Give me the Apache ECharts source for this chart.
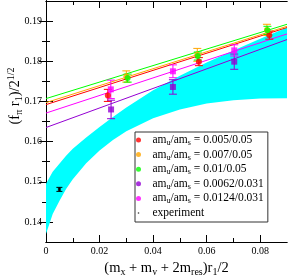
<!DOCTYPE html>
<html><head><meta charset="utf-8">
<script src="https://cdn.jsdelivr.net/npm/echarts@6/dist/echarts.min.js"></script>
<style>html,body{margin:0;padding:0;background:#fff}#c{width:289px;height:275px}</style>
</head><body><div id="c"></div>
<script>
// ---- tick values ----
const xMajorTicks = [0, 0.02, 0.04, 0.06, 0.08];
const xMinorTicks = [0.01, 0.03, 0.05, 0.07];
const yMajorTicks = [0.14, 0.15, 0.16, 0.17, 0.18, 0.19];
const yMinorTicks = [0.145, 0.155, 0.165, 0.175, 0.185];

// ---- legend labels (am_u/am_s ratios) ----
const ratioLabels = ['0.005/0.05', '0.007/0.05', '0.01/0.05', '0.0062/0.031', '0.0124/0.031'];
const seriesColors = ['#ff0000', '#ffa500', '#00ff00', '#9400d3', '#ff00ff'];

// ---- lattice data points ----
const redX = [0.0231, 0.0571, 0.0834];
const redY = [0.1715, 0.1799, 0.1865];
const redErr = [0.0015, 0.0010, 0.0010];
const orangeX = [0.0300, 0.0565, 0.0825];
const orangeY = [0.1762, 0.1816, 0.1878];
const orangeErr = [0.0014, 0.0016, 0.0014];
const greenX = [0.0305, 0.0567, 0.0827];
const greenY = [0.1758, 0.1813, 0.1877];
const greenErr = [0.0010, 0.0010, 0.0010];
const purpleX = [0.0243, 0.0474, 0.0703];
const purpleY = [0.1680, 0.1736, 0.1799];
const purpleErr = [0.0023, 0.0018, 0.0019];
const magentaX = [0.0242, 0.0474, 0.0703];
const magentaY = [0.1730, 0.1775, 0.1827];
const magentaErr = [0.0023, 0.0016, 0.0014];

// ---- experiment ----
const expX = [0.005];
const expY = [0.1481];
const expErr = [0.0005];

// ---- fit lines (values at lineX) ----
const lineX = [0, 0.09];
const redFit = [0.1692, 0.1884];
const orangeFit = [0.1697, 0.1887];
const greenFit = [0.1707, 0.1892];
const purpleFit = [0.1635, 0.1854];
const magentaFit = [0.1671, 0.1868];

// ---- cyan band ----
const bandX     = [0, 0.0025, 0.005, 0.0075, 0.01, 0.015, 0.02, 0.025, 0.03, 0.04, 0.05, 0.06, 0.07, 0.08, 0.09];
const bandUpper = [0.1495, 0.1525, 0.1545, 0.1565, 0.1582, 0.1610, 0.1636, 0.1661, 0.1685, 0.1728, 0.1764, 0.1797, 0.1827, 0.1856, 0.1884];
const bandLower = [0.1370, 0.1420, 0.1452, 0.1482, 0.1506, 0.1546, 0.1578, 0.1604, 0.1626, 0.1658, 0.1680, 0.1695, 0.1703, 0.1707, 0.1708];

const SERIF = '"Liberation Serif", "DejaVu Serif", serif';
const groups = [
  {x: redX, y: redY, e: redErr, fit: redFit, sym: 'circle'},
  {x: orangeX, y: orangeY, e: orangeErr, fit: orangeFit, sym: 'circle'},
  {x: greenX, y: greenY, e: greenErr, fit: greenFit, sym: 'circle'},
  {x: purpleX, y: purpleY, e: purpleErr, fit: purpleFit, sym: 'rect'},
  {x: magentaX, y: magentaY, e: magentaErr, fit: magentaFit, sym: 'rect'}
];
const legendNames = ratioLabels.map(r => 'am_u/am_s = ' + r);

function zip3(a, b, c) { return a.map((v, i) => [v, b[i], c[i]]); }

function errRender(color, cap) {
  return function (params, api) {
    const x = api.value(0), y = api.value(1), e = api.value(2);
    const top = api.coord([x, y + e]);
    const bot = api.coord([x, y - e]);
    const st = {stroke: color, lineWidth: 1};
    return {type: 'group', children: [
      {type: 'line', shape: {x1: top[0], y1: top[1], x2: bot[0], y2: bot[1]}, style: st},
      {type: 'line', shape: {x1: top[0] - cap, y1: top[1], x2: top[0] + cap, y2: top[1]}, style: st},
      {type: 'line', shape: {x1: bot[0] - cap, y1: bot[1], x2: bot[0] + cap, y2: bot[1]}, style: st}
    ]};
  };
}

const series = [];
// band
series.push({
  type: 'custom', name: 'band', z: 1, silent: true, clip: true,
  data: [[bandX[0], bandLower[0]]],
  renderItem: function (params, api) {
    const pts = [];
    for (let i = 0; i < bandX.length; i++) pts.push(api.coord([bandX[i], bandUpper[i]]));
    for (let i = bandX.length - 1; i >= 0; i--) pts.push(api.coord([bandX[i], bandLower[i]]));
    return {type: 'polygon', shape: {points: pts}, style: {fill: '#00ffff'}};
  }
});
groups.forEach((g, i) => {
  const c = seriesColors[i];
  series.push({
    type: 'line', name: 'fit' + i, z: 2, showSymbol: false, silent: true,
    data: lineX.map((x, k) => [x, g.fit[k]]),
    lineStyle: {color: c, width: 1}, itemStyle: {color: c}
  });
  series.push({
    type: 'custom', name: 'err' + i, z: 3, silent: true,
    data: zip3(g.x, g.y, g.e),
    renderItem: errRender(c, 4)
  });
  series.push({
    type: 'scatter', name: legendNames[i], z: 4,
    symbol: g.sym, symbolSize: 6,
    data: g.x.map((x, k) => [x, g.y[k]]),
    itemStyle: {color: c}
  });
});
series.push({
  type: 'custom', name: 'errExp', z: 3, silent: true,
  data: zip3(expX, expY, expErr),
  renderItem: errRender('#000', 3)
});
series.push({
  type: 'scatter', name: 'experiment', z: 4, symbol: 'rect', symbolSize: 3,
  data: expX.map((x, k) => [x, expY[k]]), itemStyle: {color: '#000'}
});

function mkAxis(extra, ticks, len, showLabel, fmt) {
  return Object.assign({
    type: 'value', min: extra.min, max: extra.max,
    axisLine: {show: true, lineStyle: {color: '#000', width: 1}},
    axisTick: {show: true, inside: true, length: len, customValues: ticks, lineStyle: {color: '#000', width: 1}},
    axisLabel: showLabel ? {show: true, customValues: ticks, formatter: fmt, fontFamily: SERIF, fontSize: 10, color: '#000', margin: 4} : {show: false},
    splitLine: {show: false}
  }, extra);
}
const xr = {min: 0, max: 0.09};
const yr = {min: 0.135, max: 0.195};
const xFmt = v => v === 0 ? '0' : v.toFixed(2);
const yFmt = v => v.toFixed(2);

const subRich = {
  t: {fontFamily: SERIF, fontSize: 14.5, lineHeight: 18, color: '#000'},
  s: {fontFamily: SERIF, fontSize: 10, lineHeight: 10, verticalAlign: 'bottom', color: '#000'},
  p: {fontFamily: SERIF, fontSize: 10, lineHeight: 10, verticalAlign: 'top', color: '#000'}
};

const option = {
  animation: false,
  backgroundColor: '#fff',
  grid: {left: 46, right: 2, top: 1, bottom: 33, containLabel: false, outerBoundsMode: 'none'},
  graphic: [{
    type: 'text', x: 15, y: 96, rotation: Math.PI / 2, silent: true,
    style: {
      text: '{t|(f}{s|π}{t| r}{s|1}{t|)/2}{p|1/2}',
      rich: subRich, align: 'center', verticalAlign: 'middle'
    }
  }],
  xAxis: [
    mkAxis(Object.assign({position: 'bottom',
      name: '{t|(m}{s|x}{t| + m}{s|y}{t| + 2m}{s|res}{t|)r}{s|1}{t|/2}',
      nameLocation: 'middle', nameGap: 10,
      nameTextStyle: {rich: subRich}}, xr), xMajorTicks, 7, true, xFmt),
    mkAxis(Object.assign({position: 'bottom'}, xr), xMinorTicks, 4, false),
    mkAxis(Object.assign({position: 'top'}, xr), xMajorTicks, 7, false),
    mkAxis(Object.assign({position: 'top'}, xr), xMinorTicks, 4, false)
  ],
  yAxis: [
    mkAxis(Object.assign({position: 'left'}, yr), yMajorTicks, 7, true, yFmt),
    mkAxis(Object.assign({position: 'left'}, yr), yMinorTicks, 4, false),
    mkAxis(Object.assign({position: 'right'}, yr), yMajorTicks, 7, false),
    mkAxis(Object.assign({position: 'right'}, yr), yMinorTicks, 4, false)
  ],
  legend: {
    show: true, orient: 'vertical', left: 135, top: 132,
    padding: [2, 4, 3, 1], itemGap: 1.6, itemWidth: 18, itemHeight: 5,
    borderColor: '#333', borderWidth: 1, backgroundColor: '#fff',
    selectedMode: false,
    data: legendNames.map(n => ({name: n, icon: 'circle'})).concat([{name: 'experiment',
      icon: 'path://M0,0M10,10M3.4,5a1.6,1.6 0 1,0 3.2,0a1.6,1.6 0 1,0 -3.2,0z'}]),
    formatter: function (name) {
      if (name === 'experiment') return '{t|experiment}';
      const r = name.split('= ')[1];
      return '{t|am}{s|u}{t|/am}{s|s}{t| = ' + r + '}';
    },
    textStyle: {
      rich: {
        t: {fontFamily: SERIF, fontSize: 11.5, lineHeight: 14, color: '#000'},
        s: {fontFamily: SERIF, fontSize: 8, lineHeight: 8, verticalAlign: 'bottom', color: '#000'}
      }
    }
  },
  series: series
};
const chart = echarts.init(document.getElementById('c'), null, {renderer: 'canvas'});
chart.setOption(option);
</script>
</body></html>
